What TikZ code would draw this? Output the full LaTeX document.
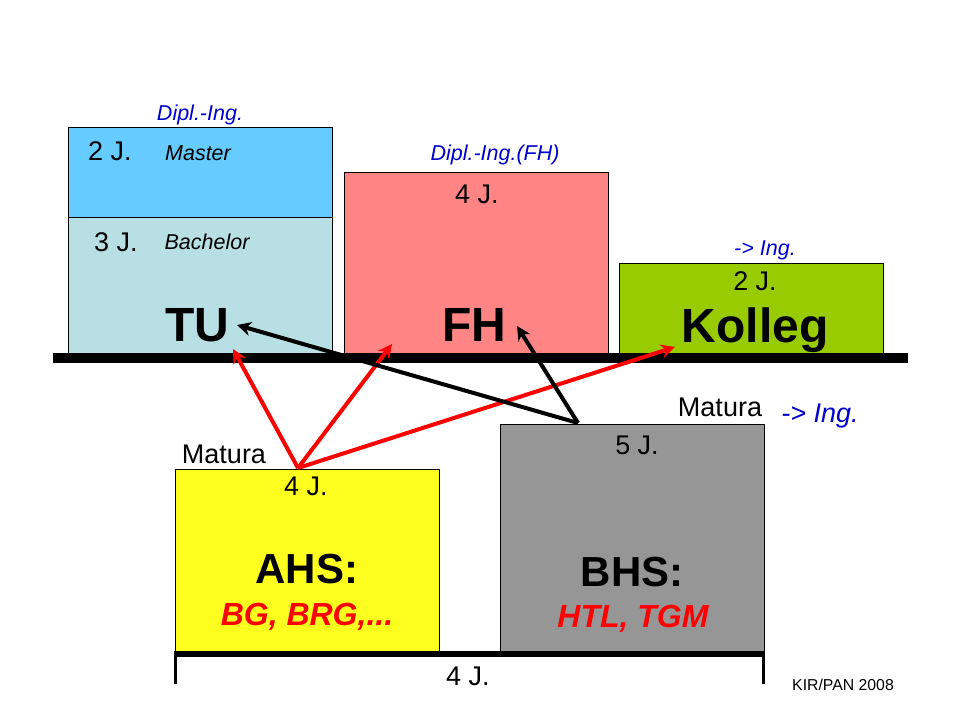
\documentclass[tikz,border=0pt]{standalone}
\usepackage{fontspec}
\setmainfont{Liberation Sans}
\usepackage{xcolor}
\usetikzlibrary{arrows.meta}
\definecolor{masterColor}{HTML}{66CCFF}
\definecolor{bachelorColor}{HTML}{B8DFE3}
\definecolor{fhColor}{HTML}{FF8585}
\definecolor{kollegColor}{HTML}{99CC00}
\definecolor{ahsColor}{HTML}{FFFF1F}
\definecolor{bhsColor}{HTML}{969696}
\definecolor{degreeColor}{HTML}{0000CC}
\newcommand{\fs}[1]{\fontsize{#1}{#1}\selectfont}

\begin{document}
\begin{tikzpicture}[
x=1pt,y=-1pt,
schoolbox/.style={draw,line width=1pt,anchor=north west,inner sep=0pt,minimum width=264.8pt},
years/.style={font=\fs{27}},
kind/.style={font=\fs{21.5}\itshape},
degree/.style={font=\fs{21.5}\itshape,text=degreeColor},
bigname/.style={font=\fs{48}\bfseries},
midname/.style={font=\fs{42}\bfseries},
subname/.style={font=\fs{32}\bfseries\itshape,text=red},
bar/.style={line width=9.5pt},
redarrow/.style={draw=red,line width=4pt,-{Stealth[length=14pt,width=14pt]}},
blackarrow/.style={draw=black,line width=4pt,-{Stealth[length=14pt,width=14pt]}},
]
\useasboundingbox (0,0) rectangle (960,720);
% upper boxes
\node[schoolbox,fill=masterColor,minimum height=90pt] (master) at (67.5,127) {};
\node[schoolbox,fill=bachelorColor,minimum height=136pt] (bachelor) at (67.5,217) {};
\node[schoolbox,fill=fhColor,minimum height=181pt] (fh) at (343.5,172) {};
\node[schoolbox,fill=kollegColor,minimum height=90pt] (kolleg) at (618.5,263) {};
% lower boxes
\node[schoolbox,fill=ahsColor,minimum height=183pt] (ahs) at (174.5,469) {};
\node[schoolbox,fill=bhsColor,minimum height=228pt] (bhs) at (499.5,424) {};
% bars
\coordinate (barL) at (53,358);
\coordinate (barR) at (908,358);
\draw[bar] (barL) -- (barR);
\coordinate (brackL) at (175.5,684);
\coordinate (brackTL) at (175.5,654);
\coordinate (brackTR) at (763.5,654);
\coordinate (brackR) at (763.5,684);
\coordinate (spanL) at (173.8,654);
\coordinate (spanR) at (765.2,654);
\draw[line width=3.5pt] (brackL) -- (brackTL);
\draw[line width=3.5pt] (brackR) -- (brackTR);
\draw[line width=6pt] (spanL) -- (spanR);
% texts
\node[degree] (dipl) at (200,115) {Dipl.-Ing.};
\node[degree] (diplfh) at (495,155) {Dipl.-Ing.(FH)};
\node[degree] (ingk) at (765,250) {-> Ing.};
\node[degree,font=\fs{27}\itshape] (ingb) at (820,416) {-> Ing.};
\node[years] (jmaster) at (110,151) {2 J.};
\node[kind] (lmaster) at (198,153) {Master};
\node[years] (jbach) at (116,242) {3 J.};
\node[kind] (lbach) at (207,242) {Bachelor};
\node[years] (jfh) at (477,194) {4 J.};
\node[years] (jkolleg) at (755,281) {2 J.};
\node[years] (jbhs) at (637,445) {5 J.};
\node[years] (jahs) at (306,486) {4 J.};
\node[years] (jall) at (468,676) {4 J.};
\node[years] (mahs) at (224,454) {Matura};
\node[years] (mbhs) at (720,407) {Matura};
\node[bigname] (tu) at (197.5,325.5) {TU};
\node[bigname] (fhname) at (474,325) {FH};
\node[bigname] (kollegname) at (755,330) {Kolleg};
\node[midname] (ahsname) at (307,569) {AHS:};
\node[midname] (bhsname) at (632,572) {BHS:};
\node[subname] (ahssub) at (307,617) {BG, BRG,...};
\node[subname] (bhssub) at (633,618.5) {HTL, TGM};
\node[font=\fs{15.8}] (credit) at (843,685) {KIR/PAN 2008};
% arrows
\coordinate (ahsTop) at (298,468);
\coordinate (bhsTop) at (578,423);
\coordinate (toTU) at (233,349);
\coordinate (toFH) at (392,344);
\coordinate (toKolleg) at (675,347);
\coordinate (bhsTU) at (237,325);
\coordinate (bhsFH) at (517,326);
\draw[redarrow] (ahsTop) -- (toTU);
\draw[redarrow] (ahsTop) -- (toFH);
\draw[redarrow] (ahsTop) -- (toKolleg);
\draw[blackarrow] (bhsTop) -- (bhsTU);
\draw[blackarrow] (bhsTop) -- (bhsFH);
\end{tikzpicture}
\end{document}
